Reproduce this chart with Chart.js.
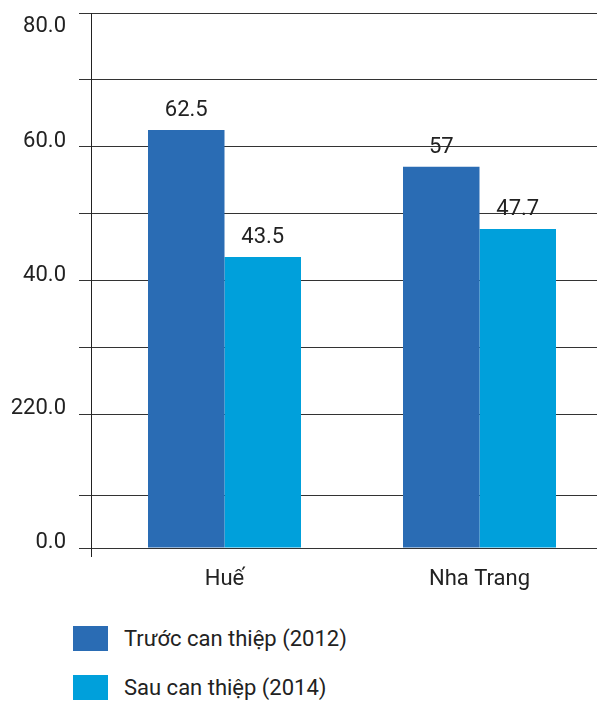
<!DOCTYPE html>
<html>
<head>
<meta charset="utf-8">
<script src="https://cdn.jsdelivr.net/npm/chart.js@4"></script>
<style>
  html, body { margin: 0; padding: 0; background: #fff; overflow: hidden; }
  #wrap { position: relative; width: 597px; height: 702px; overflow: hidden; }
  #chart { position: absolute; left: 0; top: 0; }
  .legend { position: absolute; left: 73px; font-family: "Roboto", sans-serif; font-size: 22px; color: #222; }
  .legend-item { display: flex; align-items: center; height: 25px; margin-bottom: 24px; }
  .legend-box { width: 35px; height: 25px; margin-right: 16px; }
</style>
</head>
<body>
<div id="wrap">
  <canvas id="chart" width="607" height="600"></canvas>
  <div class="legend" id="legend" style="top:626px"></div>
</div>
<script>
// chart data
const categories = ['Huế', 'Nha Trang'];
const seriesNames = ['Trước can thiệp (2012)', 'Sau can thiệp (2014)'];
const before2012 = [62.5, 57];
const after2014 = [43.5, 47.7];
const seriesColors = ['#2a6cb4', '#00a0db'];

// y gridlines (the lower one sits off the 10 mark in the source) and printed labels
const gridValues = [0, 7.8, 20, 30, 40, 50, 60, 70, 80];
const labelValues = [0, 20, 40, 60, 80];
const labelTexts = ['0.0', '220.0', '40.0', '60.0', '80.0'];

const FONT = '"Roboto", sans-serif';
const TEXT = '#222';

// draws the y labels, the vertical axis line and the value labels above the bars
const decorations = {
    id: 'decorations',
    afterDraw(chart) {
        const { ctx, chartArea, scales } = chart;
        ctx.save();
        ctx.font = '22px ' + FONT;
        ctx.fillStyle = TEXT;

        // y labels
        ctx.textAlign = 'right';
        ctx.textBaseline = 'alphabetic';
        labelValues.forEach((v, i) => {
            let y = scales.y.getPixelForValue(v);
            if (y - 20 < 0) y += 19;
            ctx.fillText(labelTexts[i], 66, y);
        });

        // axis line
        ctx.strokeStyle = '#222';
        ctx.lineWidth = 1;
        ctx.beginPath();
        ctx.moveTo(chartArea.left - 5.5, chartArea.top);
        ctx.lineTo(chartArea.left - 5.5, chartArea.bottom + 9);
        ctx.stroke();

        // value labels
        ctx.textAlign = 'center';
        chart.data.datasets.forEach((ds, di) => {
            chart.getDatasetMeta(di).data.forEach((bar, i) => {
                ctx.fillText(String(ds.data[i]), bar.x, bar.y - 14);
            });
        });
        ctx.restore();
    }
};

new Chart(document.getElementById('chart'), {
    type: 'bar',
    data: {
        labels: categories,
        datasets: [
            { label: seriesNames[0], data: before2012, backgroundColor: seriesColors[0] },
            { label: seriesNames[1], data: after2014, backgroundColor: seriesColors[1] },
        ],
    },
    options: {
        responsive: false,
        animation: false,
        layout: { padding: { top: 13, left: 0, right: 0, bottom: 0 } },
        datasets: { bar: { categoryPercentage: 0.6, barPercentage: 1 } },
        plugins: { legend: { display: false }, tooltip: { enabled: false } },
        scales: {
            x: {
                grid: { display: false },
                border: { display: false },
                ticks: { color: TEXT, font: { family: FONT, size: 22 }, padding: 10 },
                afterFit(scale) { scale.height = 52; },
            },
            y: {
                min: 0,
                max: 80,
                afterBuildTicks(scale) { scale.ticks = gridValues.map(v => ({ value: v })); },
                grid: { color: '#333', lineWidth: 1, tickLength: 18, drawTicks: true },
                border: { display: false },
                ticks: { display: false },
                afterFit(scale) { scale.width = 97; },
            },
        },
    },
    plugins: [decorations],
});

// legend
document.getElementById('legend').innerHTML = seriesNames.map((name, i) => `
  <div class="legend-item">
    <div class="legend-box" style="background:${seriesColors[i]}"></div>
    <span>${name}</span>
  </div>`).join('');
</script>
</body>
</html>
